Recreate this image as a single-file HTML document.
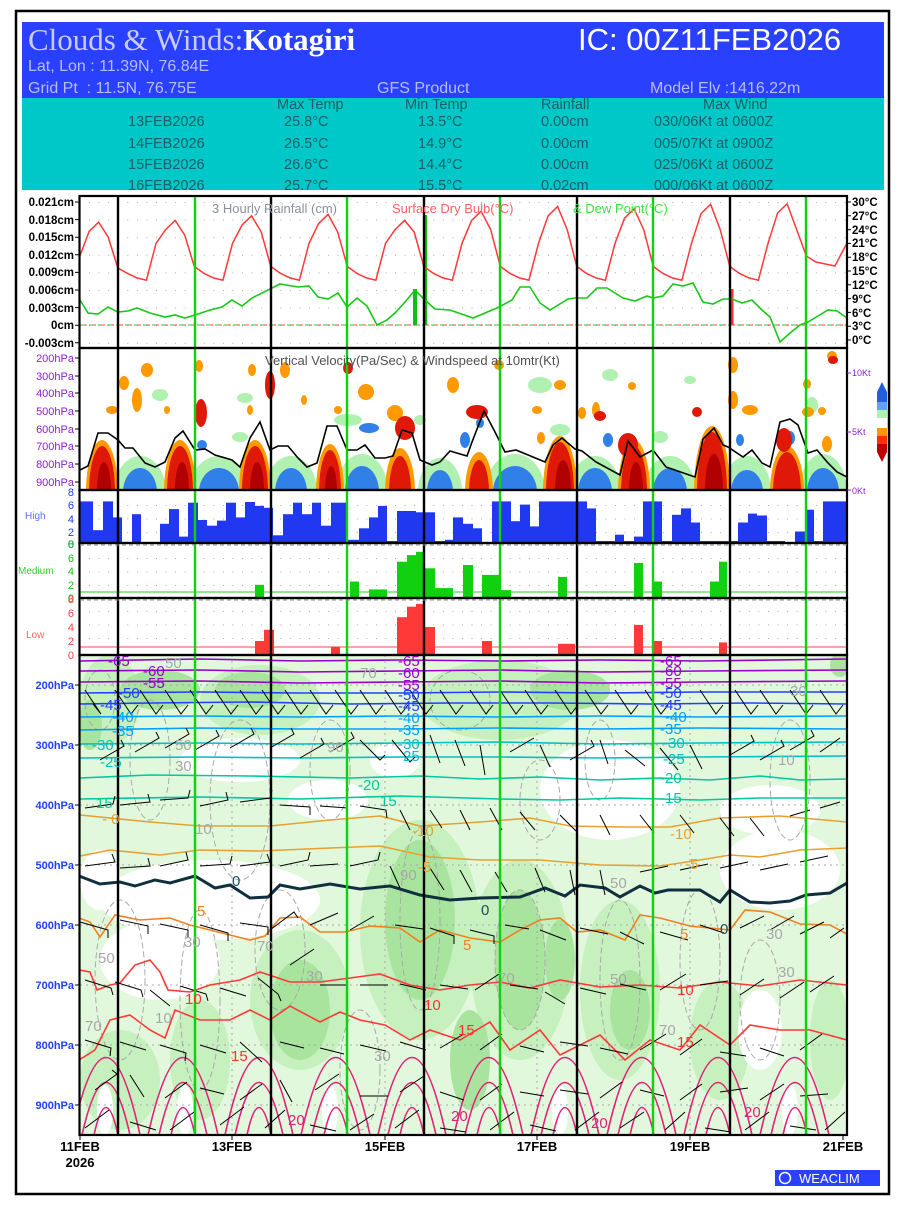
<!DOCTYPE html>
<html><head><meta charset="utf-8"><style>
html,body{margin:0;padding:0;background:#fff;}
svg text{font-family:"Liberation Sans",sans-serif;}
</style></head><body>
<svg width="900" height="1200" viewBox="0 0 900 1200" xmlns="http://www.w3.org/2000/svg">
<defs>
<pattern id="pt" x="79.5" y="202" width="9.5625" height="17.6" patternUnits="userSpaceOnUse"><rect x="-0.7" y="-0.7" width="1.6" height="1.6" fill="#999"/></pattern>
<pattern id="pc" x="79.5" y="505" width="9.5625" height="13.5" patternUnits="userSpaceOnUse"><rect x="-0.7" y="-0.7" width="1.6" height="1.6" fill="#999"/></pattern>
<pattern id="pc2" x="79.5" y="558" width="9.5625" height="13.5" patternUnits="userSpaceOnUse"><rect x="-0.7" y="-0.7" width="1.6" height="1.6" fill="#999"/></pattern>
<pattern id="pc3" x="79.5" y="611" width="9.5625" height="13.5" patternUnits="userSpaceOnUse"><rect x="-0.7" y="-0.7" width="1.6" height="1.6" fill="#999"/></pattern>
<clipPath id="cv"><rect x="79.5" y="348" width="767.5" height="142"/></clipPath>
<clipPath id="cb"><rect x="79.5" y="655" width="767.5" height="480"/></clipPath>
</defs>
<rect x="0" y="0" width="900" height="1200" fill="#fff"/>
<rect x="16" y="11" width="873" height="1183" fill="none" stroke="#000" stroke-width="2.5"/>
<rect x="22" y="22" width="862" height="76" fill="#2a40ff"/>
<rect x="22" y="98" width="862" height="92" fill="#00c8c8"/>
<text x="28" y="50" font-size="31" fill="#c8ccff" style="font-family:'Liberation Serif',serif">Clouds &amp; Winds:<tspan fill="#fff" font-weight="bold">Kotagiri</tspan></text>
<text x="578" y="50" font-size="31" fill="#fff">IC: 00Z11FEB2026</text>
<text x="28" y="71" font-size="16" fill="#b8bcff">Lat, Lon : 11.39N, 76.84E</text>
<text x="28" y="93" font-size="16" fill="#b8bcff" xml:space="preserve">Grid Pt  : 11.5N, 76.75E</text>
<text x="377" y="93" font-size="16" fill="#b8bcff">GFS Product</text>
<text x="650" y="93" font-size="16" fill="#b8bcff">Model Elv :1416.22m</text>
<g font-size="14.5" fill="#1e5e66">
<text x="277" y="109">Max Temp</text><text x="405" y="109">Min Temp</text><text x="541" y="109">Rainfall</text><text x="703" y="109">Max Wind</text>
<text x="128" y="126">13FEB2026</text><text x="284" y="126">25.8°C</text><text x="418" y="126">13.5°C</text><text x="541" y="126">0.00cm</text><text x="654" y="126">030/06Kt at 0600Z</text>
<text x="128" y="148">14FEB2026</text><text x="284" y="148">26.5°C</text><text x="418" y="148">14.9°C</text><text x="541" y="148">0.00cm</text><text x="654" y="148">005/07Kt at 0900Z</text>
<text x="128" y="169">15FEB2026</text><text x="284" y="169">26.6°C</text><text x="418" y="169">14.4°C</text><text x="541" y="169">0.00cm</text><text x="654" y="169">025/06Kt at 0600Z</text>
<text x="128" y="190">16FEB2026</text><text x="284" y="190">25.7°C</text><text x="418" y="190">15.5°C</text><text x="541" y="190">0.02cm</text><text x="654" y="190">000/06Kt at 0600Z</text>
</g>

<rect x="80" y="197" width="767" height="150" fill="url(#pt)"/>
<rect x="80" y="500" width="767" height="36" fill="url(#pc)"/>
<rect x="80" y="553" width="767" height="36" fill="url(#pc2)"/>
<rect x="80" y="606" width="767" height="36" fill="url(#pc3)"/>

<g clip-path="url(#cb)">
<rect x="79.5" y="655" width="767.5" height="480" fill="#e2f8dc"/>
<g fill="#c6f0bd">
<ellipse cx="110" cy="700" rx="30" ry="45"/><ellipse cx="260" cy="700" rx="60" ry="35"/><ellipse cx="500" cy="700" rx="80" ry="40"/>
<ellipse cx="420" cy="930" rx="60" ry="110"/><ellipse cx="520" cy="960" rx="50" ry="100"/><ellipse cx="300" cy="1000" rx="50" ry="70"/>
<ellipse cx="620" cy="990" rx="40" ry="90"/><ellipse cx="720" cy="1040" rx="30" ry="60"/><ellipse cx="120" cy="1080" rx="40" ry="50"/>
<ellipse cx="830" cy="1040" rx="20" ry="60"/><ellipse cx="200" cy="1060" rx="30" ry="60"/>
</g>
<g fill="#a8e49e">
<ellipse cx="420" cy="920" rx="35" ry="80"/><ellipse cx="520" cy="960" rx="25" ry="70"/><ellipse cx="300" cy="1010" rx="30" ry="50"/>
<ellipse cx="160" cy="690" rx="40" ry="20"/><ellipse cx="570" cy="690" rx="40" ry="20"/><ellipse cx="250" cy="690" rx="35" ry="18"/>
<ellipse cx="630" cy="1010" rx="20" ry="40"/><ellipse cx="470" cy="1060" rx="20" ry="50"/><ellipse cx="840" cy="665" rx="10" ry="12"/>
<ellipse cx="90" cy="725" rx="12" ry="25"/><ellipse cx="560" cy="960" rx="15" ry="40"/>
</g>
<g fill="#ffffff">
<ellipse cx="210" cy="900" rx="110" ry="40"/><ellipse cx="160" cy="960" rx="60" ry="40"/><ellipse cx="610" cy="790" rx="70" ry="50"/>
<ellipse cx="780" cy="870" rx="60" ry="40"/><ellipse cx="770" cy="810" rx="50" ry="25"/><ellipse cx="240" cy="760" rx="60" ry="22"/>
<ellipse cx="100" cy="880" rx="20" ry="30"/><ellipse cx="760" cy="1030" rx="22" ry="40"/><ellipse cx="328" cy="800" rx="40" ry="20"/>
<ellipse cx="105" cy="1110" rx="8" ry="25"/><ellipse cx="185" cy="1110" rx="8" ry="25"/><ellipse cx="330" cy="1110" rx="8" ry="25"/>
<ellipse cx="560" cy="1110" rx="8" ry="25"/><ellipse cx="790" cy="1110" rx="8" ry="25"/><ellipse cx="395" cy="760" rx="25" ry="18"/>
</g>
<g fill="none" stroke="#aaa" stroke-width="1" stroke-dasharray="6,3">
<ellipse cx="150" cy="760" rx="20" ry="60"/><ellipse cx="240" cy="800" rx="30" ry="80"/><ellipse cx="330" cy="770" rx="20" ry="50"/>
<ellipse cx="120" cy="980" rx="25" ry="80"/><ellipse cx="200" cy="1000" rx="20" ry="90"/><ellipse cx="280" cy="950" rx="25" ry="60"/>
<ellipse cx="420" cy="920" rx="20" ry="90"/><ellipse cx="520" cy="960" rx="25" ry="70"/><ellipse cx="620" cy="980" rx="20" ry="80"/>
<ellipse cx="700" cy="960" rx="20" ry="70"/><ellipse cx="790" cy="780" rx="20" ry="60"/><ellipse cx="600" cy="760" rx="15" ry="40"/>
<ellipse cx="360" cy="1070" rx="20" ry="60"/><ellipse cx="460" cy="700" rx="30" ry="30"/><ellipse cx="760" cy="1000" rx="20" ry="60"/>
<ellipse cx="540" cy="800" rx="20" ry="40"/><ellipse cx="100" cy="700" rx="15" ry="30"/>
</g>
<g stroke="#aaa" stroke-width="1" stroke-dasharray="2,4">
<line x1="80" x2="847" y1="685" y2="685"/><line x1="80" x2="847" y1="745" y2="745"/><line x1="80" x2="847" y1="805" y2="805"/><line x1="80" x2="847" y1="865" y2="865"/><line x1="80" x2="847" y1="925" y2="925"/><line x1="80" x2="847" y1="985" y2="985"/><line x1="80" x2="847" y1="1045" y2="1045"/><line x1="80" x2="847" y1="1105" y2="1105"/>
<line x1="232" x2="232" y1="655" y2="1135"/><line x1="385" x2="385" y1="655" y2="1135"/><line x1="537" x2="537" y1="655" y2="1135"/><line x1="690" x2="690" y1="655" y2="1135"/>
</g>

<g fill="none" stroke-width="1.6">
<polyline stroke="#9900cc" points="80,661 200,659 300,661 400,660 500,661 600,660 700,661 847,659"/>
<polyline stroke="#9900cc" points="80,671 200,670 300,672 400,671 500,670 600,672 700,671 847,670"/>
<polyline stroke="#9900cc" points="80,682 200,681 300,683 400,682 500,681 600,683 700,682 847,681"/>
<polyline stroke="#2040ff" points="80,693 200,692 300,693 400,693 500,692 600,693 700,692 847,692"/>
<polyline stroke="#2040ff" points="80,704 150,703 250,702 350,704 450,703 550,703 650,704 750,703 847,704"/>
<polyline stroke="#00a0ff" points="80,717 200,716 300,717 400,716 500,717 600,716 700,717 847,716"/>
<polyline stroke="#00a0ff" points="80,730 200,728 300,729 400,729 500,728 600,729 700,728 847,729"/>
<polyline stroke="#00c0c8" points="80,744 200,743 300,744 400,743 500,742 600,744 700,743 847,742"/>
<polyline stroke="#00c0c8" points="80,758 200,757 300,758 400,757 500,757 600,758 700,757 847,756"/>
<polyline stroke="#00c8a0" points="80,778 150,775 250,776 350,778 420,776 480,779 540,777 600,780 660,778 710,780 760,776 800,780 847,779"/>
<polyline stroke="#00c8a0" points="80,799 200,797 300,799 400,796 500,799 560,800 620,798 700,800 760,798 847,798"/>
<polyline stroke="#e8a030" points="80,815 150,822 200,826 270,826 330,820 380,816 420,826 480,822 530,818 570,826 620,827 670,827 720,818 780,816 847,822"/>
<polyline stroke="#e8a030" points="80,856 110,850 160,855 200,850 260,851 330,848 380,846 430,857 480,860 540,860 600,865 660,866 700,860 730,855 760,857 800,850 847,848"/>
<polyline stroke="#103040" stroke-width="3" points="79,876 100,884 120,882 135,886 155,880 170,883 195,876 215,888 230,885 250,898 268,897 280,885 300,889 330,884 360,889 390,886 420,895 450,900 480,898 520,897 545,888 565,896 580,885 605,888 620,897 640,886 655,893 668,890 700,890 720,902 730,890 750,902 770,903 790,901 806,895 830,893 847,883"/>
<polyline stroke="#f08020" points="79,918 90,922 100,937 115,915 140,920 170,918 190,925 210,930 230,935 250,940 265,936 280,918 300,917 320,932 345,932 370,926 400,928 420,942 440,930 470,938 500,942 520,930 540,920 560,918 577,932 600,930 625,940 640,915 660,918 690,926 730,930 745,910 770,912 800,924 830,925 847,934"/>
<polyline stroke="#ff3838" points="79,970 90,972 97,990 110,985 120,983 135,965 150,960 160,972 168,990 190,992 210,985 240,980 260,972 290,982 320,982 350,978 380,974 410,985 440,990 470,985 500,982 530,988 560,980 600,987 640,985 680,988 720,982 760,986 800,980 847,985"/>
<polyline stroke="#ff3838" points="79,1060 95,1050 110,1020 130,1015 150,1030 165,1038 175,1010 200,1020 230,1020 250,1010 270,1020 290,1006 320,1022 340,1012 360,1020 385,1025 410,1040 430,1030 460,1040 490,1022 510,1050 540,1030 560,1055 580,1045 600,1035 625,1060 650,1040 680,1050 700,1025 730,1045 750,1025 780,1030 810,1030 847,1040"/>
<path stroke="#e0207a" d="M72,1135 Q106,980 140,1135 M148,1135 Q183,980 218,1135 M225,1135 Q259,980 293,1135 M301,1135 Q336,980 370,1135 M378,1135 Q412,980 446,1135 M454,1135 Q489,980 523,1135 M531,1135 Q565,980 599,1135 M607,1135 Q642,980 676,1135 M684,1135 Q718,980 752,1135 M760,1135 Q795,980 829,1135
M82,1135 Q106,1030 130,1135 M159,1135 Q183,1030 207,1135 M235,1135 Q259,1030 283,1135 M312,1135 Q336,1030 360,1135 M388,1135 Q412,1030 436,1135 M465,1135 Q489,1030 513,1135 M541,1135 Q565,1030 589,1135 M618,1135 Q642,1030 666,1135 M694,1135 Q718,1030 742,1135 M771,1135 Q795,1030 819,1135
M94,1135 Q106,1080 118,1135 M171,1135 Q183,1080 195,1135 M247,1135 Q259,1080 271,1135 M324,1135 Q336,1080 348,1135 M400,1135 Q412,1080 424,1135 M477,1135 Q489,1080 501,1135 M553,1135 Q565,1080 577,1135 M630,1135 Q642,1080 654,1135 M706,1135 Q718,1080 730,1135 M783,1135 Q795,1080 807,1135"/>
</g>
<path fill="none" stroke="#000" stroke-width="1" d="
M85,690l16 24l-8-10M115,690l16 24l7-9M140,690l16 24l7-9M165,690l16 24l7-9M190,690l16 24l7-9M215,690l16 24l7-9M240,690l16 24l7-9M262,690l16 24l7-9M285,690l16 24l7-9M310,690l16 24l7-9M335,690l16 24l7-9M360,690l16 24l7-9M385,690l16 24l7-9M410,690l16 24l7-9M440,690l16 24l7-9M470,690l16 24l7-9M500,690l16 24l7-9M525,690l16 24l7-9M555,690l16 24l7-9M585,690l16 24l7-9M615,690l16 24l7-9M645,690l16 24l7-9M700,690l16 24l7-9M735,690l16 24l7-9M760,690l16 24l7-9M790,690l16 24l7-9M820,690l16 24l7-9
M100,760l24-14l-3-6M135,752l24-14l-3-6M165,748l24-14l-3-6M195,750l24-14l-3-6M230,748l24-14l-3-6M270,748l24-14l-3-6M300,758l24-14l-3-6M330,752l24-14l-3-6M360,740l20 20l5-5M392,740l18 22l5-5M430,735l10 28M455,740l10 26M480,745l5 30M510,752l24-14M540,745l10 22M570,760l24-14l-3-6M600,740l8 24M625,750l20 16M660,748l18 22M690,745l12 24M730,755l24-14l-3-6M760,760l24-14l-3-6M790,750l24-14l-3-6M820,752l20-14
M85,808l28-4l2-8M120,805l30-3l-2-8M160,800l28-2l2-8M200,806l28-6l-2-8M240,802l30-4l2-8M280,805l30 2l0 8M320,806l28 2M360,806l26 4l1 8M400,810l10 20M430,810l12 18M460,810l10 20M490,808l12 22M520,812l15 18M560,815l16 16M600,815l10 20M640,815l14 18M680,815l14 18M720,818l14 18M750,818l14 18M790,816l20-6M820,808l20-6
M85,866l30-4l-3-8M120,868l30-2l-2-8M160,866l28-6l-2-8M200,866l30-2l2-8M240,866l30-4l-3-8M280,866l28-6l2-8M310,866l28-2M350,866l28-6l2-8M390,866l10 22M430,868l14 22M460,870l12 22M495,872l12 20M535,868l10 24M570,870l5 25M600,870l5 25M640,872l28-6M680,870l28-6M720,868l28-6M760,870l28-6M800,862l28-6
M80,922l28 8l0 8M120,920l28 6l0 8M160,924l28 6l0 8M200,925l28 8l0 8M240,923l28 4l0 8M270,930l24-18l4 6M310,925l28-12M350,930l24-14M395,925l28 4M430,928l24 8l0 8M470,930l24 6l0 8M505,925l24 4M540,930l26 10M580,928l28 6M620,932l24 12M660,932l28 8M700,925l24 8M740,928l24 -12M770,930l24 -14M800,934l24 -12M830,938l14 -10
M85,980l26 8l2 7M115,982l26 8l2 7M150,990l20 16M180,986l26 8l2 7M220,988l26 8M258,978l20 16l3 7M290,965l24 -16M320,985l28 0M360,985l28 0M400,984l26 6M440,985l28 4M475,990l24 -16M510,985l28 4M545,992l20 12M580,988l26 6M620,984l26 6M660,990l26 -16M700,985l28 -4M740,995l24 -16M780,998l24 -16M810,992l24 -16
M85,1040l26 8l-1 8M120,1042l26 8M160,1045l26 8l-1 8M200,1045l26 8M240,1042l22 20M280,1042l24 6M320,1048l24 6M360,1045l26 6M400,1042l26 8M440,1048l24 -14M480,1050l22 -16M520,1046l24 6M560,1042l28 4M600,1048l28 6M640,1050l26 -16M680,1055l22 -16M720,1052l26 4M760,1048l24 8M800,1050l22 -16
M95,1090l22 -16l-5-4M130,1075l14 22M165,1098l22 -16M200,1088l24 6M240,1100l22 -16M280,1080l12 22M315,1090l24 -16M360,1096l28 0M400,1092l24 -16M440,1092l24 8M480,1100l22 -16M520,1092l24 4M560,1090l28 4M600,1098l22 -16M640,1090l24 6M680,1100l22 -16M720,1092l28 -4M760,1100l24 -16M800,1096l28 -2
M85,1128l24-18M130,1122l26 8M170,1130l24 -18M220,1125l24 -18M265,1128l20 -18M310,1125l26 6M350,1130l24 -16M395,1128l24 -18M440,1128l26 4M490,1130l24 -18M530,1125l26 6M575,1130l24 -18M620,1128l24 -16M665,1130l20 -18M705,1128l26 4M745,1130l24 -18M790,1126l26 4M825,1130l20 -18"/>
</g>

<g clip-path="url(#cv)">
<g fill="#b0f0b0">
<ellipse cx="140" cy="492" rx="26" ry="36"/><ellipse cx="219" cy="492" rx="30" ry="36"/><ellipse cx="291" cy="492" rx="26" ry="36"/><ellipse cx="362" cy="492" rx="26" ry="38"/><ellipse cx="440" cy="492" rx="22" ry="34"/>
<ellipse cx="515" cy="492" rx="30" ry="38"/><ellipse cx="595" cy="492" rx="26" ry="36"/><ellipse cx="670" cy="492" rx="26" ry="36"/><ellipse cx="747" cy="492" rx="24" ry="36"/><ellipse cx="823" cy="492" rx="24" ry="38"/>
<ellipse cx="160" cy="395" rx="8" ry="6"/><ellipse cx="245" cy="398" rx="8" ry="5"/><ellipse cx="348" cy="420" rx="14" ry="6"/><ellipse cx="540" cy="385" rx="12" ry="8"/><ellipse cx="610" cy="375" rx="8" ry="6"/><ellipse cx="690" cy="380" rx="6" ry="4"/><ellipse cx="812" cy="405" rx="6" ry="8"/><ellipse cx="560" cy="430" rx="10" ry="6"/><ellipse cx="420" cy="420" rx="6" ry="5"/><ellipse cx="660" cy="437" rx="8" ry="6"/><ellipse cx="240" cy="437" rx="8" ry="5"/>
</g>
<g fill="#3080e8">
<ellipse cx="140" cy="492" rx="17" ry="24"/><ellipse cx="219" cy="492" rx="20" ry="24"/><ellipse cx="291" cy="492" rx="16" ry="24"/><ellipse cx="362" cy="492" rx="17" ry="26"/><ellipse cx="440" cy="492" rx="13" ry="22"/>
<ellipse cx="515" cy="492" rx="22" ry="26"/><ellipse cx="595" cy="492" rx="17" ry="24"/><ellipse cx="670" cy="492" rx="17" ry="24"/><ellipse cx="747" cy="492" rx="16" ry="22"/><ellipse cx="823" cy="492" rx="16" ry="24"/>
<ellipse cx="202" cy="445" rx="5" ry="5"/><ellipse cx="369" cy="428" rx="10" ry="5"/><ellipse cx="465" cy="440" rx="5" ry="8"/><ellipse cx="608" cy="440" rx="5" ry="7"/><ellipse cx="790" cy="438" rx="5" ry="7"/><ellipse cx="480" cy="423" rx="4" ry="5"/><ellipse cx="740" cy="440" rx="4" ry="6"/>
</g>
<g fill="#ff9900">
<ellipse cx="102" cy="492" rx="16" ry="52"/><ellipse cx="180" cy="492" rx="16" ry="52"/><ellipse cx="255" cy="492" rx="16" ry="52"/><ellipse cx="330" cy="492" rx="14" ry="48"/><ellipse cx="400" cy="492" rx="15" ry="44"/>
<ellipse cx="479" cy="492" rx="14" ry="40"/><ellipse cx="560" cy="492" rx="17" ry="56"/><ellipse cx="634" cy="492" rx="16" ry="52"/><ellipse cx="712" cy="492" rx="18" ry="66"/><ellipse cx="787" cy="492" rx="17" ry="46"/>
<ellipse cx="124" cy="383" rx="5" ry="7"/><ellipse cx="147" cy="370" rx="6" ry="7"/><ellipse cx="137" cy="400" rx="5" ry="12"/><ellipse cx="199" cy="366" rx="4" ry="6"/><ellipse cx="252" cy="370" rx="4" ry="6"/><ellipse cx="112" cy="410" rx="6" ry="4"/><ellipse cx="167" cy="410" rx="3" ry="4"/><ellipse cx="250" cy="410" rx="3" ry="5"/>
<ellipse cx="285" cy="370" rx="5" ry="8"/><ellipse cx="304" cy="400" rx="3" ry="5"/><ellipse cx="338" cy="410" rx="4" ry="4"/><ellipse cx="366" cy="392" rx="8" ry="8"/><ellipse cx="395" cy="413" rx="8" ry="8"/><ellipse cx="453" cy="385" rx="6" ry="8"/><ellipse cx="499" cy="365" rx="5" ry="5"/>
<ellipse cx="560" cy="385" rx="6" ry="5"/><ellipse cx="537" cy="410" rx="5" ry="4"/><ellipse cx="541" cy="438" rx="4" ry="6"/><ellipse cx="582" cy="413" rx="4" ry="6"/><ellipse cx="596" cy="410" rx="4" ry="8"/><ellipse cx="632" cy="386" rx="4" ry="4"/><ellipse cx="733" cy="365" rx="5" ry="8"/><ellipse cx="733" cy="400" rx="5" ry="9"/>
<ellipse cx="750" cy="410" rx="8" ry="5"/><ellipse cx="807" cy="384" rx="4" ry="5"/><ellipse cx="808" cy="412" rx="6" ry="5"/><ellipse cx="827" cy="444" rx="5" ry="8"/><ellipse cx="832" cy="356" rx="5" ry="5"/><ellipse cx="822" cy="411" rx="4" ry="4"/>
</g>
<g fill="#e01808">
<ellipse cx="102" cy="492" rx="13" ry="46"/><ellipse cx="180" cy="492" rx="13" ry="46"/><ellipse cx="255" cy="492" rx="13" ry="46"/><ellipse cx="330" cy="492" rx="11" ry="42"/><ellipse cx="400" cy="492" rx="11" ry="36"/>
<ellipse cx="479" cy="492" rx="10" ry="32"/><ellipse cx="560" cy="492" rx="14" ry="50"/><ellipse cx="634" cy="492" rx="13" ry="46"/><ellipse cx="712" cy="492" rx="15" ry="60"/><ellipse cx="787" cy="492" rx="14" ry="40"/>
<ellipse cx="201" cy="413" rx="6" ry="14"/><ellipse cx="270" cy="385" rx="5" ry="14"/><ellipse cx="348" cy="368" rx="5" ry="6"/><ellipse cx="477" cy="412" rx="11" ry="7"/><ellipse cx="405" cy="428" rx="10" ry="12"/><ellipse cx="600" cy="416" rx="6" ry="5"/><ellipse cx="697" cy="412" rx="5" ry="5"/><ellipse cx="833" cy="360" rx="5" ry="4"/><ellipse cx="784" cy="440" rx="8" ry="12"/><ellipse cx="628" cy="445" rx="10" ry="12"/>
</g>
<g fill="#b00000">
<ellipse cx="104" cy="490" rx="7" ry="28"/><ellipse cx="182" cy="490" rx="7" ry="28"/><ellipse cx="257" cy="490" rx="7" ry="28"/><ellipse cx="331" cy="490" rx="6" ry="24"/><ellipse cx="563" cy="490" rx="8" ry="30"/><ellipse cx="636" cy="490" rx="7" ry="28"/><ellipse cx="714" cy="490" rx="9" ry="36"/>
</g>
<polyline fill="none" stroke="#000" stroke-width="1.6" points="80,470 88,466 98,433 108,433 118,440 125,448 133,448 145,463 155,467 165,462 175,438 183,431 195,450 205,449 215,455 232,460 240,467 250,438 260,422 270,450 278,446 288,446 298,458 307,467 317,463 327,426 337,426 347,450 357,450 365,445 375,458 385,458 393,456 402,430 412,433 420,460 432,465 440,462 450,451 467,456 472,442 484,411 495,432 505,452 516,450 545,462 553,445 562,438 575,449 582,451 596,462 620,475 628,441 640,457 653,450 666,467 695,477 703,439 714,428 723,445 728,447 743,457 752,450 762,463 770,467 780,422 790,419 798,425 808,453 817,450 828,463 837,472 847,477"/>
</g>

<line x1="80" x2="847" y1="325" y2="325" stroke="#30c030" stroke-width="1" stroke-dasharray="5,4"/>
<line x1="84" x2="847" y1="325" y2="325" stroke="#ff4040" stroke-width="1" stroke-dasharray="3,6"/>
<rect x="413" y="289" width="4" height="36" fill="#10c010"/>
<rect x="423" y="215" width="4" height="110" fill="#10c010"/>
<rect x="731" y="289" width="2.5" height="36" fill="#ff3030"/>
<polyline fill="none" stroke="#ff3838" stroke-width="1.5" points="79.5,257 89.1,231.4 98.6,222.2 108.2,237 117.8,268 127.3,273.3 136.9,277.9 146.4,280.2 156,243.4 165.6,229.6 175.1,220.4 184.7,235 194.3,266.4 203.8,273.3 213.4,277.9 222.9,280.2 232.5,243.4 242.1,225 251.6,215.8 261.2,232 270.8,266.4 280.3,273.3 289.9,277.9 299.4,280.2 309,243.4 318.6,223.6 328.1,214.4 337.7,232 347.3,266.4 356.8,273.3 366.4,277.9 375.9,280.2 385.5,243.4 395.1,229.6 404.6,220.4 414.2,232 423.8,266.4 433.3,273.3 442.9,277.9 452.4,280.2 462,243.4 471.6,220.4 481.1,211.2 490.7,229.6 500.3,266.4 509.8,273.3 519.4,277.9 528.9,280.2 538.5,243.4 548.1,215.8 557.6,206.6 567.2,229.6 576.8,266.4 586.3,273.3 595.9,277.9 605.4,280.2 615,243.4 624.6,218.1 634.1,208.9 643.7,229.6 653.3,266.4 662.8,273.3 672.4,277.9 681.9,280.2 691.5,243.4 701.1,213.5 710.6,204.3 720.2,229.6 729.8,266.4 739.3,273.3 748.9,277.9 758.4,280.2 768,243.4 777.6,213 787.1,203.8 796.7,229.6 806.3,256 815.8,262 825.4,264 834.9,266 847,243"/>
<polyline fill="none" stroke="#18c818" stroke-width="1.6" points="80,300 88,313 98,314 108,307 118,312 128,311 137,308 150,313 165,317 175,315 185,318 195,315 210,310 222,307 232,300 242,306 252,298 270,289 280,284 298,287 309,286 318,297 328,299 338,293 347,307 357,298 367,306 377,325 387,320 396,312 405,302 415,290 425,300 435,309 450,310 473,318 497,308 512,300 520,287 530,287 540,303 550,310 568,299 575,298 587,298 597,288 607,288 623,298 635,301 647,296 653,298 663,296 673,284 683,286 693,283 703,302 713,304 723,299 732,299 742,303 752,300 762,310 770,317 780,342 790,333 800,325 808,322 818,316 828,310 837,311 847,318"/>

<g fill="#2038f0">
<rect x="80" y="501.4" width="13" height="41.6"/><rect x="93" y="530.2" width="10" height="12.8"/><rect x="103" y="501.4" width="10" height="41.6"/><rect x="113" y="517.4" width="9" height="25.6"/><rect x="132" y="514.2" width="9" height="28.8"/><rect x="160" y="523.8" width="9" height="19.2"/><rect x="169" y="509.1" width="10" height="33.9"/><rect x="179" y="536.6" width="9" height="6.4"/><rect x="188" y="502.7" width="10" height="40.3"/><rect x="198" y="520" width="9" height="23"/><rect x="207" y="525.7" width="10" height="17.3"/><rect x="217" y="520.6" width="9" height="22.4"/><rect x="226" y="502.7" width="10" height="40.3"/><rect x="236" y="517.4" width="9" height="25.6"/><rect x="245" y="502" width="10" height="41"/><rect x="255" y="505.9" width="9" height="37.1"/><rect x="264" y="507.8" width="9" height="35.2"/><rect x="273" y="535.3" width="10" height="7.7"/><rect x="283" y="514.2" width="10" height="28.8"/><rect x="293" y="502.7" width="9" height="40.3"/><rect x="302" y="514.2" width="10" height="28.8"/><rect x="312" y="502.7" width="9" height="40.3"/><rect x="321" y="525.7" width="10" height="17.3"/><rect x="331" y="502.7" width="16" height="40.3"/><rect x="347" y="539.8" width="12" height="3.2"/><rect x="359" y="528.3" width="10" height="14.7"/><rect x="369" y="517.4" width="9" height="25.6"/><rect x="378" y="505.9" width="9" height="37.1"/><rect x="387" y="541" width="10" height="2"/><rect x="397" y="511" width="19" height="32"/><rect x="416" y="512.3" width="19" height="30.7"/><rect x="435" y="541" width="10" height="2"/><rect x="445" y="539.8" width="8" height="3.2"/><rect x="453" y="517.4" width="10" height="25.6"/><rect x="463" y="523.8" width="10" height="19.2"/><rect x="473" y="528.3" width="9" height="14.7"/><rect x="492" y="501.4" width="19" height="41.6"/><rect x="511" y="521.2" width="9" height="21.8"/><rect x="520" y="504.6" width="10" height="38.4"/><rect x="530" y="526.4" width="9" height="16.6"/><rect x="539" y="501.4" width="48" height="41.6"/><rect x="587" y="508.4" width="9" height="34.6"/><rect x="596" y="541" width="19" height="2"/><rect x="615" y="534.7" width="9" height="8.3"/><rect x="624" y="541" width="10" height="2"/><rect x="634" y="536.6" width="9" height="6.4"/><rect x="643" y="501.4" width="19" height="41.6"/><rect x="662" y="541" width="10" height="2"/><rect x="672" y="514.8" width="9" height="28.2"/><rect x="681" y="508.4" width="10" height="34.6"/><rect x="691" y="522.5" width="9" height="20.5"/><rect x="700" y="541" width="38" height="2"/><rect x="738" y="522.5" width="10" height="20.5"/><rect x="748" y="513.6" width="9" height="29.4"/><rect x="757" y="515.5" width="10" height="27.5"/><rect x="767" y="541" width="18" height="2"/><rect x="795" y="531.5" width="10" height="11.5"/><rect x="805" y="509.7" width="9" height="33.3"/><rect x="814" y="541" width="9" height="2"/><rect x="823" y="501.4" width="24" height="41.6"/>
</g>
<line x1="80" x2="847" y1="592" y2="592" stroke="#20d020" stroke-width="1"/>
<g fill="#10d010">
<rect x="255" y="584.8" width="9" height="13.2"/><rect x="350" y="581.5" width="9" height="16.5"/><rect x="369" y="589.4" width="18" height="8.6"/><rect x="397" y="561.7" width="10" height="36.3"/><rect x="407" y="555.1" width="9" height="42.9"/><rect x="416" y="551.8" width="9" height="46.2"/><rect x="425" y="568.3" width="10" height="29.7"/><rect x="435" y="588.1" width="18" height="9.9"/><rect x="463" y="565" width="10" height="33"/><rect x="482" y="574.9" width="18" height="23.1"/><rect x="500" y="590.1" width="11" height="7.9"/><rect x="558" y="576.9" width="9" height="21.1"/><rect x="634" y="563" width="9" height="35"/><rect x="653" y="581.5" width="9" height="16.5"/><rect x="710" y="581.5" width="9" height="16.5"/><rect x="719" y="561.7" width="8" height="36.3"/>
</g>
<line x1="80" x2="847" y1="647" y2="647" stroke="#ff4848" stroke-width="1"/>
<g fill="#ff3838">
<rect x="255" y="641" width="9" height="14"/><rect x="264" y="629.8" width="10" height="25.2"/><rect x="331" y="646.6" width="9" height="8.4"/><rect x="397" y="617.2" width="10" height="37.8"/><rect x="407" y="606.7" width="9" height="48.3"/><rect x="416" y="603.9" width="9" height="51.1"/><rect x="425" y="627" width="10" height="28"/><rect x="482" y="641" width="10" height="14"/><rect x="558" y="643.8" width="17" height="11.2"/><rect x="634" y="624.9" width="9" height="30.1"/><rect x="653" y="641" width="9" height="14"/><rect x="719" y="642.4" width="8" height="12.6"/>
</g>

<g stroke="#000" stroke-width="2.4"><line x1="118" x2="118" y1="196" y2="1135"/><line x1="271" x2="271" y1="196" y2="1135"/><line x1="424" x2="424" y1="196" y2="1135"/><line x1="577" x2="577" y1="196" y2="1135"/><line x1="730" x2="730" y1="196" y2="1135"/></g>
<g stroke="#10d010" stroke-width="2.4"><line x1="195" x2="195" y1="196" y2="1135"/><line x1="347" x2="347" y1="196" y2="1135"/><line x1="500" x2="500" y1="196" y2="1135"/><line x1="653" x2="653" y1="196" y2="1135"/><line x1="806" x2="806" y1="196" y2="1135"/></g>
<g fill="none" stroke="#000" stroke-width="2.2">
<rect x="79.5" y="196" width="767.5" height="152"/><rect x="79.5" y="348" width="767.5" height="142"/><rect x="79.5" y="490" width="767.5" height="53"/><rect x="79.5" y="543" width="767.5" height="55"/><rect x="79.5" y="598" width="767.5" height="57"/><rect x="79.5" y="655" width="767.5" height="480"/>
</g>
<line x1="80" x2="847" y1="545" y2="545" stroke="#888" stroke-width="1" stroke-dasharray="4,3"/>
<line x1="80" x2="847" y1="600" y2="600" stroke="#888" stroke-width="1" stroke-dasharray="4,3"/>
<g stroke="#000" stroke-width="1">
<path d="M75,202h4M75,219.6h4M75,237.2h4M75,254.8h4M75,272.4h4M75,290h4M75,307.6h4M75,325.2h4M75,342.8h4M847,202h4M847,215.8h4M847,229.6h4M847,243.4h4M847,257.2h4M847,271h4M847,284.8h4M847,298.6h4M847,312.4h4M847,326.2h4M847,340h4M75,358h4M75,376h4M75,393h4M75,411h4M75,429h4M75,446h4M75,464h4M75,482h4M75,685h4M75,745h4M75,805h4M75,865h4M75,925h4M75,985h4M75,1045h4M75,1105h4M80,1135v5M232,1135v5M385,1135v5M537,1135v5M690,1135v5M843,1135v5"/>
</g>
<g stroke="#9020d0" stroke-width="1"><path d="M847,373h4M847,432h4M847,490h4"/></g>

<text x="212" y="213" font-size="13" fill="#8890a0">3 Hourly Rainfall (cm)</text>
<text x="392" y="213" font-size="13" fill="#ff6060">Surface Dry Bulb(°C)</text>
<text x="573" y="213" font-size="13" fill="#40e040">&amp; Dew Point(°C)</text>
<text x="265" y="365" font-size="13" fill="#505050">Vertical Velocity(Pa/Sec) &amp; Windspeed at 10mtr(Kt)</text>
<g font-size="11.5" fill="#000" text-anchor="end" font-weight="bold">
<text x="74" y="206">0.021cm</text><text x="74" y="224">0.018cm</text><text x="74" y="241">0.015cm</text><text x="74" y="259">0.012cm</text><text x="74" y="276">0.009cm</text><text x="74" y="294">0.006cm</text><text x="74" y="312">0.003cm</text><text x="74" y="329">0cm</text><text x="74" y="347">-0.003cm</text>
</g>
<g font-size="11.5" fill="#000" font-weight="bold">
<text x="852" y="206">30°C</text><text x="852" y="220">27°C</text><text x="852" y="234">24°C</text><text x="852" y="247">21°C</text><text x="852" y="261">18°C</text><text x="852" y="275">15°C</text><text x="852" y="289">12°C</text><text x="852" y="303">9°C</text><text x="852" y="317">6°C</text><text x="852" y="330">3°C</text><text x="852" y="344">0°C</text>
</g>
<g font-size="11" fill="#9020d0" text-anchor="end">
<text x="74" y="362">200hPa</text><text x="74" y="380">300hPa</text><text x="74" y="397">400hPa</text><text x="74" y="415">500hPa</text><text x="74" y="433">600hPa</text><text x="74" y="450">700hPa</text><text x="74" y="468">800hPa</text><text x="74" y="486">900hPa</text>
</g>
<g font-size="9" fill="#9020d0"><text x="852" y="376">10Kt</text><text x="852" y="435">5Kt</text><text x="852" y="494">0Kt</text></g>
<g font-size="11" fill="#2040ff" text-anchor="end"><text x="74" y="496">8</text><text x="74" y="509">6</text><text x="74" y="523">4</text><text x="74" y="536">2</text><text x="74" y="548">0</text></g>
<text x="25" y="519" font-size="10" fill="#6070ff">High</text>
<g font-size="11" fill="#20c020" text-anchor="end"><text x="74" y="548">8</text><text x="74" y="562">6</text><text x="74" y="575">4</text><text x="74" y="589">2</text><text x="74" y="602">0</text></g>
<text x="18" y="574" font-size="10" fill="#30d030">Medium</text>
<g font-size="11" fill="#ff4040" text-anchor="end"><text x="74" y="603">8</text><text x="74" y="617">6</text><text x="74" y="631">4</text><text x="74" y="645">2</text><text x="74" y="659">0</text></g>
<text x="26" y="638" font-size="10" fill="#ff6060">Low</text>
<g font-size="11" fill="#2040ff" text-anchor="end" font-weight="bold">
<text x="74" y="689">200hPa</text><text x="74" y="749">300hPa</text><text x="74" y="809">400hPa</text><text x="74" y="869">500hPa</text><text x="74" y="929">600hPa</text><text x="74" y="989">700hPa</text><text x="74" y="1049">800hPa</text><text x="74" y="1109">900hPa</text>
</g>
<g font-size="13" fill="#000" text-anchor="middle" font-weight="bold">
<text x="80" y="1151">11FEB</text><text x="80" y="1167">2026</text><text x="232" y="1151">13FEB</text><text x="385" y="1151">15FEB</text><text x="537" y="1151">17FEB</text><text x="690" y="1151">19FEB</text><text x="843" y="1151">21FEB</text>
</g>
<rect x="775" y="1170" width="105" height="16" fill="#2a40ff"/>
<circle cx="785" cy="1178" r="5.5" fill="none" stroke="#fff" stroke-width="1.5"/>
<text x="799" y="1183" font-size="13" fill="#fff">WEACLIM</text>
<g>
<polygon points="877,392 882,382 887,392" fill="#2060e0"/>
<rect x="877" y="392" width="10" height="10" fill="#2060e0"/><rect x="877" y="402" width="10" height="8" fill="#60a0ff"/>
<rect x="877" y="410" width="10" height="8" fill="#b0f0b0"/><rect x="877" y="418" width="10" height="10" fill="#fff"/>
<rect x="877" y="428" width="10" height="8" fill="#ff9900"/><rect x="877" y="436" width="10" height="8" fill="#ff3000"/><rect x="877" y="444" width="10" height="8" fill="#c00000"/>
<polygon points="877,452 882,462 887,452" fill="#c00000"/>
</g>
<g font-size="15">
<text x="108" y="666" fill="#9900cc">-65</text><text x="143" y="676" fill="#9900cc">-60</text><text x="143" y="688" fill="#9900cc">-55</text>
<text x="118" y="698" fill="#2040ff">-50</text><text x="100" y="710" fill="#2040ff">-45</text><text x="112" y="722" fill="#00a0ff">-40</text><text x="112" y="736" fill="#00a0ff">-35</text>
<text x="92" y="750" fill="#00c0c8">-30</text><text x="100" y="767" fill="#00c0c8">-25</text><text x="96" y="808" fill="#00c8a0">15</text><text x="102" y="824" fill="#e8a030">- 0</text>
<text x="398" y="666" fill="#9900cc">-65</text><text x="398" y="678" fill="#9900cc">-60</text><text x="398" y="690" fill="#9900cc">-55</text><text x="398" y="700" fill="#2040ff">-50</text><text x="398" y="711" fill="#2040ff">-45</text><text x="398" y="723" fill="#00a0ff">-40</text><text x="398" y="735" fill="#00a0ff">-35</text><text x="398" y="749" fill="#00c0c8">-30</text><text x="398" y="761" fill="#00c0c8">-25</text><text x="358" y="790" fill="#00c8a0">-20</text><text x="380" y="806" fill="#00c8a0">15</text>
<text x="412" y="836" fill="#e8a030">-10</text><text x="418" y="872" fill="#e8a030">-5</text>
<text x="660" y="666" fill="#9900cc">-65</text><text x="660" y="676" fill="#9900cc">-60</text><text x="660" y="688" fill="#9900cc">-55</text><text x="660" y="698" fill="#2040ff">-50</text><text x="660" y="710" fill="#2040ff">-45</text><text x="665" y="722" fill="#00a0ff">-40</text><text x="660" y="734" fill="#00a0ff">-35</text><text x="663" y="748" fill="#00c0c8">-30</text><text x="663" y="764" fill="#00c0c8">-25</text><text x="660" y="783" fill="#00c8a0">-20</text><text x="660" y="803" fill="#00c8a0">-15</text>
<text x="670" y="839" fill="#e8a030">-10</text><text x="685" y="869" fill="#e8a030">-5</text>
<text x="232" y="886" fill="#1a4c66">0</text><text x="481" y="915" fill="#1a4c66">0</text><text x="720" y="934" fill="#1a4c66">0</text>
<text x="197" y="916" fill="#f08020">5</text><text x="463" y="950" fill="#f08020">5</text><text x="680" y="939" fill="#f08020">5</text>
<text x="185" y="1004" fill="#ff3030">10</text><text x="424" y="1010" fill="#ff3030">10</text><text x="677" y="995" fill="#ff3030">10</text>
<text x="231" y="1061" fill="#ff3030">15</text><text x="458" y="1035" fill="#ff3030">15</text><text x="677" y="1047" fill="#ff3030">15</text>
<text x="288" y="1125" fill="#e0207a">20</text><text x="451" y="1121" fill="#e0207a">20</text><text x="591" y="1128" fill="#e0207a">20</text><text x="744" y="1117" fill="#e0207a">20</text>
<g fill="#a8a8a8"><text x="165" y="668">50</text><text x="360" y="678">70</text><text x="175" y="750">50</text><text x="175" y="771">30</text><text x="327" y="752">90</text><text x="195" y="834">10</text><text x="400" y="880">90</text><text x="610" y="888">50</text><text x="184" y="947">30</text><text x="257" y="951">70</text><text x="306" y="981">30</text><text x="98" y="963">50</text><text x="155" y="1023">10</text><text x="85" y="1031">70</text><text x="374" y="1061">30</text><text x="498" y="983">70</text><text x="610" y="984">50</text><text x="659" y="1035">70</text><text x="766" y="939">30</text><text x="778" y="977">30</text><text x="778" y="765">10</text><text x="790" y="696">30</text></g>
</g>
</svg>
</body></html>
